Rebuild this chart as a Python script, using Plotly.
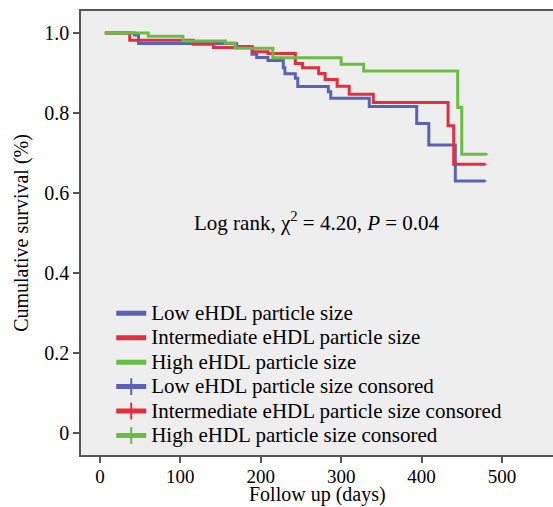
import plotly.graph_objects as go

# Kaplan-Meier step data (time in days, cumulative survival)
low_time = [6, 43, 48, 170, 189, 195, 209, 228, 230, 243, 246, 284, 287, 335, 394, 409, 442, 479]
low_surv = [1.0, 0.995, 0.974, 0.966, 0.947, 0.939, 0.931, 0.913, 0.898, 0.887, 0.866, 0.853, 0.837, 0.816, 0.774, 0.72, 0.63, 0.63]

mid_time = [6, 37, 116, 141, 190, 209, 243, 252, 272, 280, 295, 310, 340, 433, 440, 479]
mid_surv = [1.0, 0.982, 0.972, 0.964, 0.953, 0.949, 0.924, 0.913, 0.899, 0.884, 0.867, 0.847, 0.826, 0.768, 0.672, 0.672]

high_time = [6, 60, 103, 156, 168, 215, 300, 328, 445, 450, 481]
high_surv = [1.0, 0.992, 0.980, 0.975, 0.962, 0.938, 0.922, 0.905, 0.814, 0.697, 0.697]

group_names = ["Low eHDL particle size", "Intermediate eHDL particle size", "High eHDL particle size"]
colors = ["#5A62B5", "#E0303F", "#69BD45"]

x_ticks = [0, 100, 200, 300, 400, 500]
y_ticks = [0, 0.2, 0.4, 0.6, 0.8, 1.0]
y_tick_text = ["0", "0.2", "0.4", "0.6", "0.8", "1.0"]
x_title = "Follow up (days)"
y_title = "Cumulative survival (%)"

series = [(low_time, low_surv), (mid_time, mid_surv), (high_time, high_surv)]


def big(s):
    return '<span style="font-size:21px">' + s + '</span>'


fig = go.Figure()
for (t, s), name, c in zip(series, group_names, colors):
    fig.add_trace(go.Scatter(x=t, y=s, mode="lines", line=dict(shape="hv", color=c, width=3),
                             name=big(name)))
for (t, s), name, c in zip(series, group_names, colors):
    fig.add_trace(go.Scatter(x=[t[-1]], y=[s[-1]], mode="lines+markers",
                             line=dict(color=c, width=3),
                             marker=dict(symbol="line-ns", size=1, line=dict(color=c, width=3)),
                             name=big(name + " consored")))

font_family = "Liberation Serif, Times New Roman, serif"
axis_col = "#555555"
fig.update_layout(
    width=553, height=507,
    margin=dict(l=81, r=0, t=11, b=52),
    paper_bgcolor="white", plot_bgcolor="#EEEEEE",
    font=dict(family=font_family, size=20, color="black"),
    showlegend=True,
    legend=dict(x=0.064, y=0.358, xanchor="left", yanchor="top", bgcolor="rgba(0,0,0,0)",
                font=dict(size=16.5, family=font_family), tracegroupgap=0, itemwidth=30,
                itemsizing="constant"),
    xaxis=dict(range=[-23.6, 563.5], tickvals=x_ticks, ticks="outside", ticklen=6,
               showgrid=False, zeroline=False, showline=True, linecolor=axis_col, linewidth=1.5,
               mirror=True, tickcolor=axis_col, tickwidth=1.5, tickfont=dict(size=19),
               ticklabelstandoff=-3),
    yaxis=dict(range=[-0.055, 1.055], tickvals=y_ticks, ticktext=y_tick_text, ticks="outside",
               ticklen=6, showgrid=False, zeroline=False, showline=True, linecolor=axis_col,
               linewidth=1.5, tickcolor=axis_col, tickwidth=1.5, tickfont=dict(size=20),
               title=dict(text=y_title, standoff=10, font=dict(size=20))),
)
fig.add_annotation(x=0.5, y=-0.1171, xref="paper", yref="paper", showarrow=False,
                   xanchor="center", yanchor="bottom", text=x_title, borderpad=0,
                   font=dict(size=20, family=font_family))
fig.add_annotation(x=0.501, y=0.525, xref="paper", yref="paper", showarrow=False,
                   text="Log rank, χ<sup>2</sup> = 4.20, <i>P</i> = 0.04",
                   font=dict(size=21, family=font_family))
fig.write_html("out.html")
